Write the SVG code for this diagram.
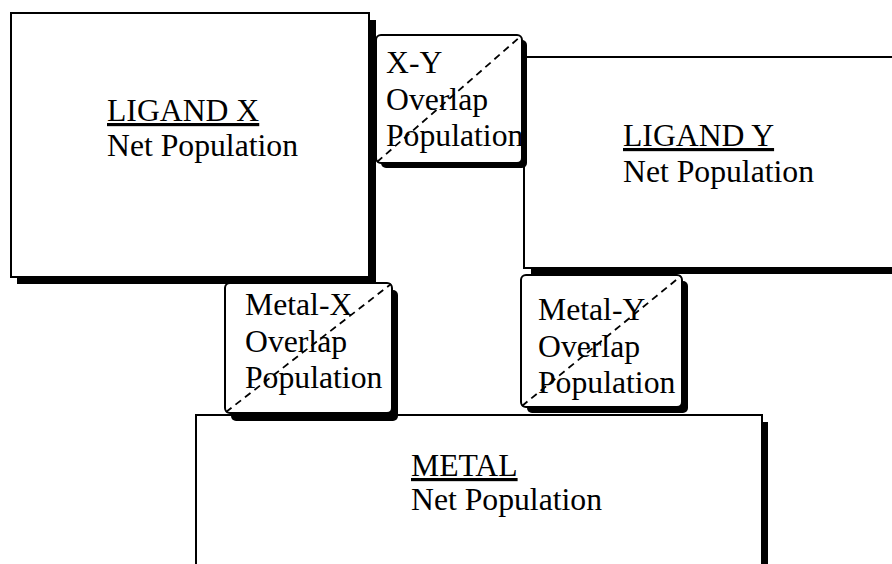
<svg xmlns="http://www.w3.org/2000/svg" width="892" height="564" viewBox="0 0 892 564">
<style>
.box{fill:#fff;stroke:#000;stroke-width:2}
.sh{fill:#000}
.t{font-family:"Liberation Serif","Times New Roman",serif;font-size:31.7px;fill:#000}
.u{text-decoration:underline}
.diag{stroke:#000;stroke-width:1.8;stroke-dasharray:7 5;fill:none}
</style>
<defs>
<clipPath id="cxy"><rect x="376" y="35" width="146" height="128" rx="5"/></clipPath>
</defs>
<rect width="892" height="564" fill="#fff"/>
<g id="ligandX">
<rect class="sh" x="17" y="20" width="359" height="264"/>
<rect class="box" x="11" y="13" width="358" height="264"/>
<text class="t" x="107" y="121"><tspan class="u">LIGAND X</tspan></text>
<text class="t" x="107" y="156">Net Population</text>
</g>
<g id="ligandY">
<rect class="sh" x="531" y="63" width="400" height="211"/>
<rect class="box" x="524" y="57" width="400" height="211"/>
<text class="t" x="623" y="146"><tspan class="u">LIGAND Y</tspan></text>
<text class="t" x="623" y="182">Net Population</text>
</g>
<g id="metal">
<rect class="sh" x="202" y="422" width="566" height="200"/>
<rect class="box" x="196" y="415" width="566" height="200"/>
<text class="t" x="411" y="476"><tspan class="u">METAL</tspan></text>
<text class="t" x="411" y="510">Net Population</text>
</g>
<g id="overlapXY">
<rect class="sh" x="381" y="40" width="146" height="128" rx="5"/>
<rect class="box" x="376" y="35" width="146" height="128" rx="5"/>
<g clip-path="url(#cxy)">
<text class="t" x="386" y="73">X-Y</text>
<text class="t" x="386" y="110">Overlap</text>
<text class="t" x="386" y="146">Population</text>
</g>
</g>
<g id="overlapMX">
<rect class="sh" x="231" y="290" width="167" height="131" rx="5"/>
<rect class="box" x="225" y="283" width="167" height="130" rx="5"/>
<text class="t" x="245" y="315">Metal-X</text>
<text class="t" x="245" y="352">Overlap</text>
<text class="t" x="245" y="388">Population</text>
</g>
<g id="overlapMY">
<rect class="sh" x="527" y="281" width="161" height="132" rx="5"/>
<rect class="box" x="521" y="275" width="161" height="132" rx="5"/>
<text class="t" x="538" y="320">Metal-Y</text>
<text class="t" x="538" y="357">Overlap</text>
<text class="t" x="538" y="393">Population</text>
</g>
<g id="connectors">
<line class="diag" x1="377" y1="162" x2="521" y2="36"/>
<line class="diag" x1="226" y1="412" x2="391" y2="284"/>
<line class="diag" x1="522" y1="406" x2="681" y2="276"/>
</g>
</svg>
